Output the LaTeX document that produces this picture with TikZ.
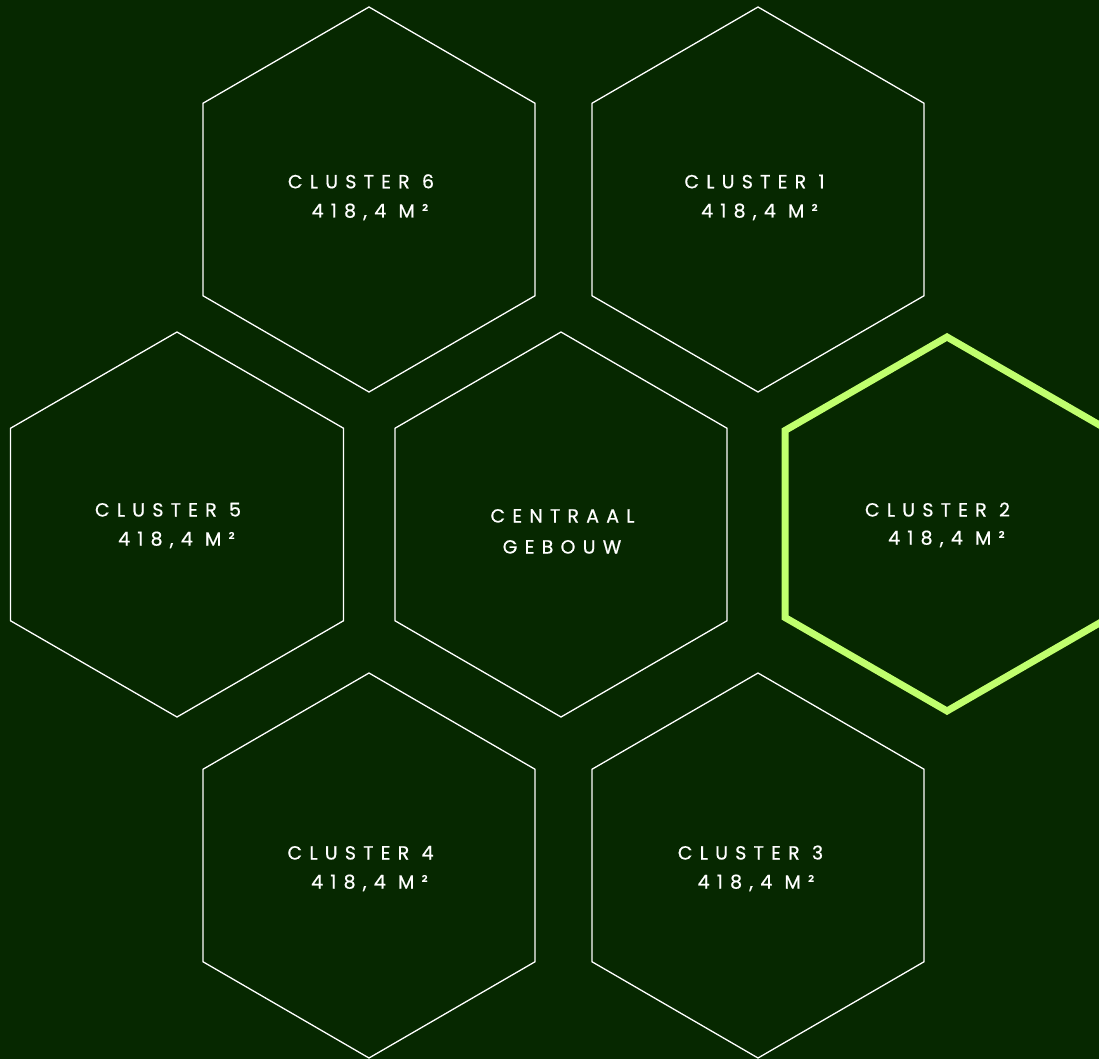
\documentclass[tikz,border=0pt]{standalone}
\usepackage{fontspec}
\newfontfamily\labfont[LetterSpace=38,FakeBold=0.6]{Poppins}
\definecolor{bgc}{RGB}{6,40,0}
\definecolor{lime}{RGB}{192,255,110}
\tikzset{
  hexw/.style={draw=white, line width=1.3pt, line join=miter},
  hexg/.style={draw=lime, line width=7pt, line join=miter},
  lab/.style={text=white, font=\labfont\fontsize{19}{19}\selectfont, anchor=base, inner sep=0pt},
}
\newcommand{\hexpath}[5]{% style, x, y, half-height, half-width
  \draw[#1, shift={(#2,#3)}] (0,-#4) -- (#5,-#4/2) -- (#5,#4/2) -- (0,#4) -- (-#5,#4/2) -- (-#5,-#4/2) -- cycle;}
\begin{document}
\begin{tikzpicture}[x=1pt,y=-1pt]
\fill[bgc] (0,0) rectangle (1099,1059);
\useasboundingbox (0,0) rectangle (1099,1059);
\clip (0,0) rectangle (1099,1059);
% centres
\coordinate (h6) at (369,199.5);
\coordinate (h1) at (758,199.5);
\coordinate (h5) at (177,524.5);
\coordinate (hc) at (561,524.5);
\coordinate (h2) at (947,524);
\coordinate (h4) at (369,865.5);
\coordinate (h3) at (758,865.5);
\hexpath{hexw}{369}{199.5}{192.5}{166}
\hexpath{hexw}{758}{199.5}{192.5}{166}
\hexpath{hexw}{177}{524.5}{192.5}{166.5}
\hexpath{hexw}{561}{524.5}{192.5}{166}
\hexpath{hexg}{947}{524}{187}{162}
\hexpath{hexw}{369}{865.5}{192.5}{166}
\hexpath{hexw}{758}{865.5}{192.5}{166}
% labels
\node[lab] (t6a) at (361,188.3) {CLUSTER 6};
\node[lab] (t6b) at (370,217.5) {418,4 M²};
\node[lab] (t1a) at (754.5,188.3) {CLUSTER 1};
\node[lab] (t1b) at (759.5,217.5) {418,4 M²};
\node[lab] (t5a) at (168,516.5) {CLUSTER 5};
\node[lab] (t5b) at (176.5,545.5) {418,4 M²};
\node[lab] (tca) at (562.5,522.5) {CENTRAAL};
\node[lab] (tcb) at (562,553.5) {GEBOUW};
\node[lab] (t2a) at (937.5,516.5) {CLUSTER 2};
\node[lab] (t2b) at (946.5,544.5) {418,4 M²};
\node[lab] (t4a) at (360.5,859.5) {CLUSTER 4};
\node[lab] (t4b) at (369.5,888.5) {418,4 M²};
\node[lab] (t3a) at (750.5,859.5) {CLUSTER 3};
\node[lab] (t3b) at (756,888.5) {418,4 M²};
\end{tikzpicture}
\end{document}
